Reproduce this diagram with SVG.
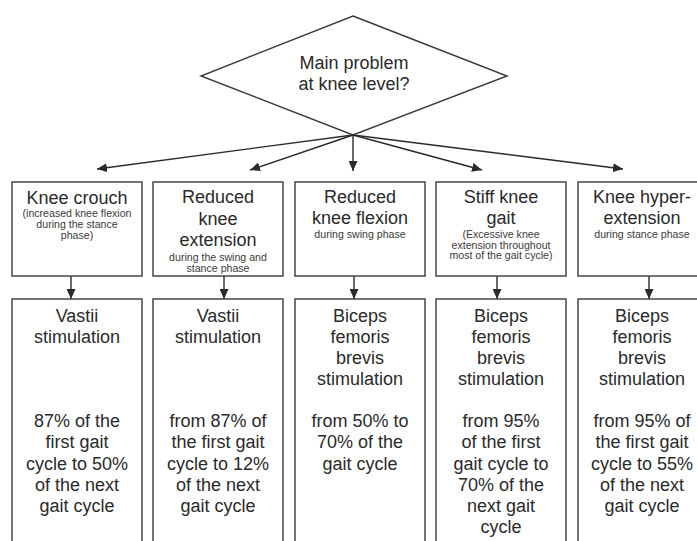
<svg xmlns="http://www.w3.org/2000/svg" width="697" height="541" viewBox="0 0 697 541">
<defs>
<style>
.box{fill:#fff;stroke:#3a3a3a;stroke-width:1.4}
.t{font-family:"Liberation Sans",Arial,sans-serif;font-size:18px;fill:#2a2a2a;text-anchor:middle}
.s{font-family:"Liberation Sans",Arial,sans-serif;font-size:10.6px;fill:#3a3a3a;text-anchor:middle}
.c{stroke:#2a2a2a;stroke-width:1.4;fill:none;marker-end:url(#ah)}
</style>
<marker id="ah" markerUnits="userSpaceOnUse" markerWidth="11" markerHeight="9" refX="10" refY="4.5" orient="auto">
<path d="M0,0 L10,4.5 L0,9 z" fill="#2a2a2a"/>
</marker>
</defs>
<rect width="697" height="541" fill="#fff"/>
<g id="decision">
<polygon class="box" points="353,16 507,76 353,135 201,76"/>
<text class="t" x="354" y="69">Main problem</text>
<text class="t" x="354" y="90">at knee level?</text>
</g>
<g id="connectors">
<line class="c" x1="353" y1="135" x2="97" y2="169"/>
<line class="c" x1="353" y1="135" x2="250" y2="170"/>
<line class="c" x1="353" y1="135" x2="353" y2="171"/>
<line class="c" x1="353" y1="135" x2="482" y2="170"/>
<line class="c" x1="353" y1="135" x2="623" y2="169"/>
<line class="c" x1="71" y1="276" x2="71" y2="299"/>
<line class="c" x1="224" y1="276" x2="224" y2="299"/>
<line class="c" x1="354" y1="276" x2="354" y2="299"/>
<line class="c" x1="497" y1="276" x2="497" y2="299"/>
<line class="c" x1="649" y1="276" x2="649" y2="299"/>
</g>
<g id="p1">
<rect class="box" x="12" y="182" width="130" height="94"/>
<text class="t" x="77" y="204">Knee crouch</text>
<text class="s" x="77" y="217">(increased knee flexion</text>
<text class="s" x="77" y="228">during the stance</text>
<text class="s" x="77" y="239">phase)</text>
</g>
<g id="p2">
<rect class="box" x="153" y="182" width="130" height="94"/>
<text class="t" x="218" y="203">Reduced</text>
<text class="t" x="218" y="225">knee</text>
<text class="t" x="218" y="246">extension</text>
<text class="s" x="218" y="260.5">during the swing and</text>
<text class="s" x="218" y="272">stance phase</text>
</g>
<g id="p3">
<rect class="box" x="295" y="182" width="130" height="94"/>
<text class="t" x="360" y="203">Reduced</text>
<text class="t" x="360" y="224">knee flexion</text>
<text class="s" x="360" y="238">during swing phase</text>
</g>
<g id="p4">
<rect class="box" x="436" y="182" width="130" height="94"/>
<text class="t" x="501" y="203">Stiff knee</text>
<text class="t" x="501" y="224">gait</text>
<text class="s" x="501" y="238">(Excessive knee</text>
<text class="s" x="501" y="248.5">extension throughout</text>
<text class="s" x="501" y="259">most of the gait cycle)</text>
</g>
<g id="p5">
<rect class="box" x="578" y="182" width="130" height="94"/>
<text class="t" x="642" y="203">Knee hyper-</text>
<text class="t" x="642" y="224">extension</text>
<text class="s" x="642" y="238">during stance phase</text>
</g>
<g id="s1">
<rect class="box" x="12" y="299" width="130" height="250"/>
<text class="t" x="77" y="322">Vastii</text>
<text class="t" x="77" y="343">stimulation</text>
<text class="t" x="77" y="427">87% of the</text>
<text class="t" x="77" y="448">first gait</text>
<text class="t" x="77" y="470">cycle to 50%</text>
<text class="t" x="77" y="491">of the next</text>
<text class="t" x="77" y="512">gait cycle</text>
</g>
<g id="s2">
<rect class="box" x="153" y="299" width="130" height="250"/>
<text class="t" x="218" y="322">Vastii</text>
<text class="t" x="218" y="343">stimulation</text>
<text class="t" x="218" y="427">from 87% of</text>
<text class="t" x="218" y="448">the first gait</text>
<text class="t" x="218" y="470">cycle to 12%</text>
<text class="t" x="218" y="491">of the next</text>
<text class="t" x="218" y="512">gait cycle</text>
</g>
<g id="s3">
<rect class="box" x="295" y="299" width="130" height="250"/>
<text class="t" x="360" y="322">Biceps</text>
<text class="t" x="360" y="343">femoris</text>
<text class="t" x="360" y="364">brevis</text>
<text class="t" x="360" y="385">stimulation</text>
<text class="t" x="360" y="427">from 50% to</text>
<text class="t" x="360" y="448">70% of the</text>
<text class="t" x="360" y="470">gait cycle</text>
</g>
<g id="s4">
<rect class="box" x="436" y="299" width="130" height="250"/>
<text class="t" x="501" y="322">Biceps</text>
<text class="t" x="501" y="343">femoris</text>
<text class="t" x="501" y="364">brevis</text>
<text class="t" x="501" y="385">stimulation</text>
<text class="t" x="501" y="427">from 95%</text>
<text class="t" x="501" y="448">of the first</text>
<text class="t" x="501" y="470">gait cycle to</text>
<text class="t" x="501" y="491">70% of the</text>
<text class="t" x="501" y="512">next gait</text>
<text class="t" x="501" y="533">cycle</text>
</g>
<g id="s5">
<rect class="box" x="578" y="299" width="130" height="250"/>
<text class="t" x="642" y="322">Biceps</text>
<text class="t" x="642" y="343">femoris</text>
<text class="t" x="642" y="364">brevis</text>
<text class="t" x="642" y="385">stimulation</text>
<text class="t" x="642" y="427">from 95% of</text>
<text class="t" x="642" y="448">the first gait</text>
<text class="t" x="642" y="470">cycle to 55%</text>
<text class="t" x="642" y="491">of the next</text>
<text class="t" x="642" y="512">gait cycle</text>
</g>
</svg>
